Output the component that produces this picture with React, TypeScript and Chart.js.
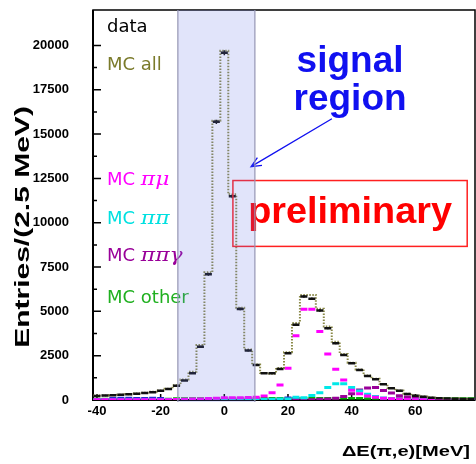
import React, { useEffect, useRef } from 'react';
import { Chart, registerables } from 'chart.js';

Chart.register(...registerables);

// ---------------- data ----------------
const BIN_WIDTH = 2.5;
const binCenters = [-40, -37.5, -35, -32.5, -30, -27.5, -25, -22.5, -20, -17.5, -15, -12.5, -10, -7.5, -5, -2.5, 0, 2.5, 5, 7.5, 10, 12.5, 15, 17.5, 20, 22.5, 25, 27.5, 30, 32.5, 35, 37.5, 40, 42.5, 45, 47.5, 50, 52.5, 55, 57.5, 60, 62.5, 65, 67.5, 70, 72.5, 75, 77.5];

const dataCounts = [230, 250, 270, 290, 320, 350, 390, 440, 520, 620, 810, 1100, 1510, 3010, 7100, 15690, 19590, 11490, 5140, 2790, 1980, 1510, 1510, 1750, 2640, 4240, 5840, 5710, 5050, 4050, 3200, 2540, 2070, 1690, 1360, 1170, 885, 660, 525, 340, 245, 190, 130, 100, 80, 70, 60, 50];

const mcAll = [250, 260, 280, 300, 330, 370, 410, 460, 540, 640, 830, 1150, 1600, 3100, 7200, 15750, 19700, 11600, 5200, 2850, 2000, 1520, 1480, 1800, 2700, 4350, 5930, 5930, 5150, 4150, 3280, 2600, 2100, 1720, 1380, 1200, 900, 680, 540, 350, 260, 200, 140, 110, 90, 80, 70, 60];

const mcPiMu = [20, 20, 20, 20, 20, 20, 20, 20, 20, 20, 30, 40, 50, 60, 80, 100, 120, 120, 130, 140, 150, 225, 410, 850, 1790, 3630, 5120, 5120, 3860, 2600, 1730, 1130, 550, 350, 230, 150, 100, 70, 50, 30, 20, 20, 20, 20, 20, 20, 20, 20];

const mcPiPi = [10, 10, 10, 10, 10, 10, 10, 10, 10, 10, 10, 10, 10, 10, 10, 10, 10, 10, 10, 10, 20, 30, 40, 50, 60, 150, 120, 250, 410, 700, 920, 920, 700, 510, 320, 200, 110, 60, 40, 30, 20, 15, 10, 10, 10, 10, 10, 10];

const mcPiPiGamma = [20, 20, 20, 20, 20, 20, 20, 20, 20, 20, 20, 20, 20, 20, 20, 20, 20, 20, 20, 20, 20, 20, 20, 20, 20, 20, 20, 20, 40, 60, 100, 200, 350, 560, 680, 700, 540, 400, 240, 170, 110, 80, 50, 30, 20, 15, 10, 10];

const mcOther = [60, 60, 60, 60, 60, 60, 60, 60, 60, 60, 90, 90, 90, 90, 90, 90, 90, 90, 90, 90, 100, 100, 100, 100, 100, 100, 100, 100, 100, 100, 100, 100, 100, 100, 80, 80, 80, 80, 80, 80, 80, 80, 80, 80, 80, 80, 80, 80];

const mcExtra = [0, 0, 100, 110, 110, 100, 100, 110, 100, 0, 0, 0, 0, 0, 0, 0, 0, 0, 0, 0, 0, 0, 0, 0, 130, 100, 0, 0, 0, 0, 0, 0, 0, 0, 0, 0, 0, 0, 0, 0, 0, 0, 0, 0, 0, 0, 0, 0];

const xTicks = [-40, -20, 0, 20, 40, 60];
const yTicks = [0, 2500, 5000, 7500, 10000, 12500, 15000, 17500, 20000];
const xRange = [-41.25, 78.75];
const yRange = [0, 22000];
const signalRegion = [-14.6, 9.6];

const legendItems = [
  { prefix: 'data', greek: '', color: '#000000' },
  { prefix: 'MC all', greek: '', color: '#7a7a2a' },
  { prefix: 'MC ', greek: 'πμ', color: '#ff00ff' },
  { prefix: 'MC ', greek: 'ππ', color: '#00e0e0' },
  { prefix: 'MC ', greek: 'ππγ', color: '#990099' },
  { prefix: 'MC other', greek: '', color: '#20b020' },
];
const legendBaselines = [32, 70, 185, 224, 261, 303];

// ---------------- helpers ----------------
function stepPoints(vals: number[]) {
  const pts = binCenters.map((c, i) => ({ x: c - BIN_WIDTH / 2, y: vals[i] }));
  const last = binCenters.length - 1;
  pts.push({ x: binCenters[last] + BIN_WIDTH / 2, y: vals[last] });
  return pts;
}

function barSegments(vals: number[], shrink: number) {
  const pts: any[] = [];
  binCenters.forEach((c, i) => {
    if (vals[i] <= 0) return;
    pts.push({ x: c - BIN_WIDTH / 2 + shrink, y: vals[i] });
    pts.push({ x: c + BIN_WIDTH / 2 - shrink, y: vals[i] });
    pts.push({ x: c, y: null });
  });
  return pts;
}

function errorBars(vals: number[]) {
  const pts: any[] = [];
  binCenters.forEach((c, i) => {
    const e = Math.sqrt(vals[i]);
    pts.push({ x: c, y: vals[i] - e });
    pts.push({ x: c, y: vals[i] + e });
    pts.push({ x: c, y: null });
  });
  return pts;
}

function txt(ctx: CanvasRenderingContext2D, s: string, x: number, y: number, font: string, color: string, align: CanvasTextAlign = 'left', sx = 1, sy = 1, rot = 0) {
  ctx.save();
  ctx.translate(x, y);
  ctx.rotate(rot);
  ctx.scale(sx, sy);
  ctx.font = font;
  ctx.fillStyle = color;
  ctx.textAlign = align;
  ctx.textBaseline = 'alphabetic';
  ctx.fillText(s, 0, 0);
  ctx.restore();
}

const bgPlugin = {
  id: 'bgFrame',
  beforeDatasetsDraw(chart: any) {
    const { ctx, chartArea: a, scales } = chart;
    const ys = scales.y;
    const xs = scales.x;
    ctx.save();
    ctx.strokeStyle = '#000';
    ctx.lineWidth = 1.5;
    ctx.strokeRect(a.left, a.top, a.right - a.left, a.bottom - a.top);
    ctx.lineWidth = 2;
    ctx.beginPath();
    ctx.moveTo(a.left, a.top);
    ctx.lineTo(a.left, a.bottom);
    ctx.lineTo(a.right, a.bottom);
    ctx.stroke();
    ctx.lineWidth = 1.5;
    ctx.beginPath();
    yTicks.forEach((v, i) => {
      const py = ys.getPixelForValue(v);
      ctx.moveTo(a.left, py);
      ctx.lineTo(a.left + 8, py);
      if (i < yTicks.length - 1) {
        const pm = ys.getPixelForValue((v + yTicks[i + 1]) / 2);
        ctx.moveTo(a.left, pm);
        ctx.lineTo(a.left + 4, pm);
      }
    });
    xTicks.forEach((v) => {
      const px = xs.getPixelForValue(v);
      ctx.moveTo(px, a.bottom);
      ctx.lineTo(px, a.bottom - 6);
    });
    ctx.stroke();
    ctx.restore();
  },
};

const fgPlugin = {
  id: 'fgText',
  afterDraw(chart: any) {
    const { ctx, chartArea: a, scales } = chart;
    const xs = scales.x;
    const ys = scales.y;

    legendItems.forEach((it, i) => {
      const bx = a.left + 14;
      const by = legendBaselines[i];
      ctx.save();
      ctx.font = '18px "DejaVu Sans"';
      const w = ctx.measureText(it.prefix).width;
      ctx.restore();
      txt(ctx, it.prefix, bx, by, '18px "DejaVu Sans"', it.color);
      if (it.greek) txt(ctx, it.greek, bx + w, by, 'italic 19px "DejaVu Serif"', it.color, 'left', 1.15, 1);
    });

    const cx = xs.getPixelForValue(39.5);
    txt(ctx, 'signal', cx, ys.getPixelForValue(18510), 'bold 37px "Liberation Sans"', '#1010f0', 'center');
    txt(ctx, 'region', cx, ys.getPixelForValue(16370), 'bold 37px "Liberation Sans"', '#1010f0', 'center');
    const x0 = xs.getPixelForValue(33.8), y0 = ys.getPixelForValue(15865);
    const x1 = xs.getPixelForValue(8.4), y1 = ys.getPixelForValue(13165);
    ctx.save();
    ctx.strokeStyle = '#1010f0';
    ctx.lineWidth = 1.3;
    ctx.beginPath();
    ctx.moveTo(x0, y0);
    ctx.lineTo(x1, y1);
    const ang = Math.atan2(y0 - y1, x0 - x1);
    ctx.moveTo(x1 + 11 * Math.cos(ang + 0.42), y1 + 11 * Math.sin(ang + 0.42));
    ctx.lineTo(x1, y1);
    ctx.lineTo(x1 + 11 * Math.cos(ang - 0.42), y1 + 11 * Math.sin(ang - 0.42));
    ctx.stroke();
    ctx.restore();

    const bx0 = xs.getPixelForValue(2.7), bx1 = xs.getPixelForValue(76.3);
    const by0 = ys.getPixelForValue(12380), by1 = ys.getPixelForValue(8665);
    ctx.save();
    ctx.strokeStyle = '#ff2020';
    ctx.lineWidth = 1.5;
    ctx.strokeRect(bx0, by0, bx1 - bx0, by1 - by0);
    ctx.restore();
    txt(ctx, 'preliminary', (bx0 + bx1) / 2, ys.getPixelForValue(9958), 'bold 36px "Liberation Sans"', '#ff0000', 'center', 1.05, 1);

    txt(ctx, 'Entries/(2.5 MeV)', 29, (a.top + a.bottom) / 2 + 22, 'bold 20px "Liberation Sans"', '#000', 'center', 1.5, 1, -Math.PI / 2);
    txt(ctx, 'ΔE(π,e)[MeV]', 470, 456, 'bold 15px "Liberation Sans"', '#000', 'right', 1.34, 1);

    const sx0 = xs.getPixelForValue(signalRegion[0]);
    const sx1 = xs.getPixelForValue(signalRegion[1]);
    ctx.save();
    ctx.fillStyle = 'rgba(105,120,230,0.2)';
    ctx.fillRect(sx0, a.top, sx1 - sx0, a.bottom - a.top + 2);
    ctx.strokeStyle = 'rgba(150,150,180,0.8)';
    ctx.lineWidth = 1.5;
    ctx.beginPath();
    ctx.moveTo(sx0, a.top);
    ctx.lineTo(sx0, a.bottom + 2);
    ctx.moveTo(sx1, a.top);
    ctx.lineTo(sx1, a.bottom + 2);
    ctx.stroke();
    ctx.restore();
  },
};

function segDataset(label: string, pts: any[], color: string, width: number, order: number) {
  return {
    label,
    data: pts,
    borderColor: color,
    backgroundColor: color,
    borderWidth: width,
    pointRadius: 0,
    spanGaps: false,
    tension: 0,
    fill: false,
    borderCapStyle: 'butt',
    order,
  };
}

export default function App() {
  const ref = useRef<HTMLCanvasElement>(null);
  useEffect(() => {
    const canvas = ref.current as HTMLCanvasElement;
    const tickFont = { family: '"Liberation Sans", Arial, sans-serif', weight: 'bold' as const, size: 13 };
    const chart = new Chart(canvas, {
      type: 'line',
      data: {
        datasets: [
          segDataset('MC other', barSegments(mcOther, 0.15), '#00aa00', 2.5, 9),
          segDataset('MC extra', barSegments(mcExtra, 0.15), '#2030d0', 2.5, 8),
          segDataset('MC ππγ', barSegments(mcPiPiGamma, 0.15), '#990099', 3, 7),
          segDataset('MC ππ', barSegments(mcPiPi, 0.15), '#00e8e8', 3, 6),
          segDataset('MC πμ', barSegments(mcPiMu, 0.15), '#ff00ff', 3, 5),
          {
            label: 'MC all',
            data: stepPoints(mcAll),
            stepped: 'before',
            borderColor: '#8a8a48',
            borderWidth: 2,
            borderDash: [1.5, 1.5],
            pointRadius: 0,
            fill: false,
            order: 3,
          },
          segDataset('data', barSegments(dataCounts, 0.15), '#111111', 2.5, 2),
          segDataset('data errors', errorBars(dataCounts), '#111111', 1.5, 1),
        ] as any,
      },
      options: {
        responsive: false,
        maintainAspectRatio: false,
        animation: false,
        devicePixelRatio: 1,
        layout: { padding: { left: 0, right: 1, top: 10, bottom: 0 } },
        plugins: { legend: { display: false }, tooltip: { enabled: false } },
        scales: {
          x: {
            type: 'linear',
            min: xRange[0],
            max: xRange[1],
            grid: { display: false, drawTicks: false },
            border: { display: false },
            ticks: { font: tickFont, color: '#000', padding: 4, maxRotation: 0, callback: (v: any) => String(v) },
            afterBuildTicks: (scale: any) => {
              scale.ticks = xTicks.map((v) => ({ value: v }));
            },
            afterFit: (scale: any) => {
              scale.height = 64;
              scale.paddingLeft = 0;
              scale.paddingRight = 0;
            },
          },
          y: {
            type: 'linear',
            min: yRange[0],
            max: yRange[1],
            grid: { display: false, drawTicks: false },
            border: { display: false },
            ticks: { font: tickFont, color: '#000', padding: 24, callback: (v: any) => String(v) },
            afterBuildTicks: (scale: any) => {
              scale.ticks = yTicks.map((v) => ({ value: v }));
            },
            afterFit: (scale: any) => {
              scale.width = 93;
              scale.paddingTop = 0;
              scale.paddingBottom = 0;
            },
          },
        },
      } as any,
      plugins: [bgPlugin, fgPlugin],
    });
    return () => chart.destroy();
  }, []);
  return (
    <div style={{ position: 'absolute', left: 0, top: 0, width: 476, height: 464, background: '#fff' }}>
      <canvas ref={ref} width={476} height={464} style={{ display: 'block', width: 476, height: 464 }} />
    </div>
  );
}
